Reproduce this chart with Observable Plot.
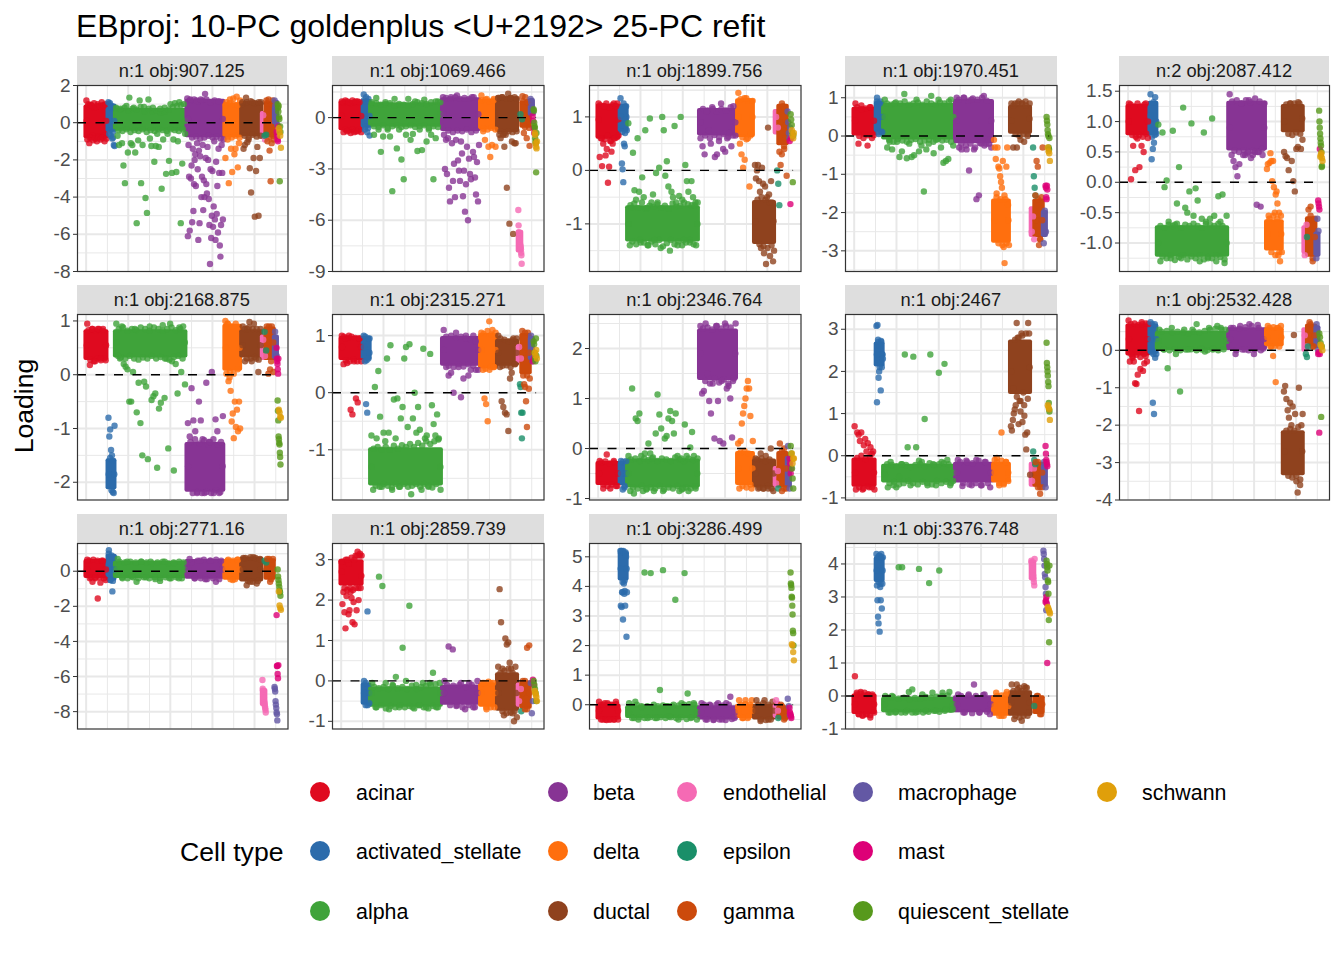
<!DOCTYPE html>
<html><head><meta charset="utf-8">
<script src="https://cdn.jsdelivr.net/npm/d3@7"></script>
<script src="https://cdn.jsdelivr.net/npm/@observablehq/plot@0.6"></script>
<style>
html,body{margin:0;padding:0;background:#fff}
#c{position:relative;width:1344px;height:960px;overflow:hidden;font-family:"Liberation Sans",Arial,sans-serif}
#c>*{position:absolute}
#c svg{overflow:visible;background:transparent}
.strip{background:#dedede;color:#1a1a1a;font-size:18.3px;text-align:center;box-sizing:border-box;padding-top:5px;line-height:20px}
.lab{font-size:21.4px;color:#000;line-height:22px;white-space:nowrap}
.sw{width:20px;height:20px;border-radius:50%}
</style></head><body><div id="c"></div>
<script>
const cellTypes=["acinar","activated_stellate","alpha","beta","delta","ductal","endothelial","epsilon","gamma","macrophage","mast","quiescent_stellate","schwann"];
const typeColors=["#df0a1f","#2c6bab","#3fa33a","#873494","#ff6f0e","#8f421e","#f56ab4","#1a8f69","#cc4a0c","#6358a4","#dd0077","#57991c","#e09f0a"];
const typeStart=[.04,.145,.18,.52,.70,.78,.878,.885,.895,.935,.945,.95,.955];
const typeEnd=[.14,.178,.515,.695,.775,.875,.895,.9,.935,.95,.955,.965,.968];
const edgeTypes=[0,1,2,3,4,5,8];
const panelTitles=["n:1 obj:907.125","n:1 obj:1069.466","n:1 obj:1899.756","n:1 obj:1970.451","n:2 obj:2087.412","n:1 obj:2168.875","n:1 obj:2315.271","n:1 obj:2346.764","n:1 obj:2467","n:1 obj:2532.428","n:1 obj:2771.16","n:1 obj:2859.739","n:1 obj:3286.499","n:1 obj:3376.748"];
const panelYMin=[-8,-9,-1.89,-3.54,-1.469,-2.33,-1.88,-1.03,-1.05,-4,-8.99,-1.19,-.82,-1];
const panelYMax=[2,1.88,1.587,1.32,1.594,1.12,1.37,2.68,3.35,.957,1.58,3.4,5.45,4.62];
const panelTicks=[[-8,-6,-4,-2,0,2],[-9,-6,-3,0],[-1,0,1],[-3,-2,-1,0,1],[-1,-.5,0,.5,1,1.5],[-2,-1,0,1],[-1,0,1],[-1,0,1,2],[-1,0,1,2,3],[-4,-3,-2,-1,0],[-8,-6,-4,-2,0],[-1,0,1,2,3],[0,1,2,3,4,5],[-1,0,1,2,3,4]];
const xMajor=[.041,.241,.441,.641,.841],xMinor=[.142,.342,.542,.742,.942];

// For each facet: dense band of each cell type [low, high], the cells at the rim of the bands, and the individual cells by type
const core0=[[-.75,.85],[-.4,.9],[-.35,.65],[-.7,1.15],[-.7,.95],[-.65,1.05],[-.8,.5],null,[-.7,1],[0,1.1],null,null,null];
const edge0=[[.1,.9,-.8,.95,-.7,.8,-.85,.9,-.75,.85,-.8,.95,-.7,.1],[1,-.4,.8,-.5,.1],[.75,-.4,.7,-.45,.8,-.35,.65,-.5,.75,-.4,.7,-.45,.85,-.35,.6,-.5,.75,-.4,.6,-.45,.65,-.35,.55,-.4,.6,-.45,.7,-.35,.85,-.4,.9,-.45,.95,-.35,.1],[.2,1.2,-.8,1.25,-.75,1.15,-.85,1.2,-.8,1.25,-.7,1.1,-.8,1.2,-.75,1.15,-.85,.2],[.95,-.75,1.05,-.8,1,-.7,.95,-.8],[1,-.7,1.1,-.8,1.15,-.65,1.05,-.75,1.1,-.7],[1.05,-.8,1,-.7]];
const cells0=[[1.2,-.9,1,-1.1,.95,-.8,.9,-.95,1.05,-.85,.85,-1,1,-.8,.9,-.9,1.1,-.8,.9,-1,1,-.85],
[1.1,-.6,1.05,-.7,.9,-.85,-.8,-1.2,-1.25],
[.8,-.7,-1.2,.75,-1.1,-2.3,-3.25,.9,-1.6,1.35,-1.1,-1.2,.8,-1.6,-5.4,-.95,1.2,-3.25,-1.2,.85,-4.05,-4.85,1.25,-.85,-1.25,.8,-2.1,-1.25,-.6,-1.3,.75,-3.55,-.9,.8,-2.75,-.6,-2.05,1,-2.7,-.9,1.05,-2.65,-1,1.1,-5.4,-2.2,1,-.6],
[1.3,-6.1,-1.2,-2.9,-5.8,1.25,-3,-2.3,-5.35,-1.4,-4.75,-3.3,-2,-1.7,-3.4,1.2,-1.1,-2.5,-6.3,-1.5,-5.4,-1.8,1.25,-4,-2.9,-1.2,-4.7,-3.1,-4,1.55,-1.9,-3.3,-3.8,-1.3,-2,-4.1,-5.5,-7.6,-2.5,-6.2,-5,-2.6,-5.6,-4.5,-1,-5.2,-6.3,-2.1,-4.9,-3.4,-5.9,-1.4,-2.7,-6.6,-7.2,-5.5,-1.2,-2.7,-5.2,-.9],
[-1.9,1.1,-.9,-3.25,1.25,-1.4,-2.65,1.3,-1.7,-1.4,1.4,-2.4,-1.1,1.2],
[1.1,-1.4,-1.2,1.35,-1.05,-.9,-2.45,-3.75,1.1,-1.9,-5.05,-2.6,-1.3,-5,-1.9,1.1],
[.4,-.9],[-.7,-.65],[1.2,-1,1.25,-1.5,-3.15,-1.1,1.2,-.9],[1.2,.9,.6,.3,-.1],[-.5,-.7,-.9,-1,-.2],[1,.8,.6,.9,.3,.2,-3.15,-.2,-.5],[-.3,-.5,-.7,-1.35]];

const core1=[[-.65,.85],[-.5,.95],[-.45,.75],[-.7,1.05],[-.6,.95],[-.75,1.1],[-7.8,-6.7],null,[-.5,.85],[.2,1],null,null,null];
const edge1=[[.1,.9,-.7,.95,-.75,.85,-.7,.9,-.8,.95,-.7,.1],[1,-.55,.95,-.6,.1],[.8,-.5,.85,-.55,.75,-.45,.8,-.6,.85,-.5,.7,-.45,.8,-.55,.75,-.5,.7,-.45,.8,-.55,.9,-.5,.85,-.45,.8,-.6,.9,-.5,.95,-.55,.2],[.2,1.15,-.75,1.1,-.85,1.2,-.75,1.1,-.8,1.15,-.7,1.1,-.85,1.2,-.75,.2],[1,-.65,1.05,-.7,.95,-.6,1,-.7],[1.15,-.8,1.2,-.9,1.1,-.8,1.15,-.85,1.2,-.8],[.95,-.55,.9,-.6]];
const cells1=[[.95,-.85,1,-.8,.9,-.9,1,-.85,.95,-.8,.9,-.85],[1.35,-.7,1.2,-.85,1.1,-1.05],
[.9,-1,1.15,-.7,-2,-1.1,.9,-.7,-1.1,-4.3,1.1,-1.8,-.7,-2.45,-3.6,-1,1.1,-1.3,-.95,.95,-1.95,-.7,-1.9,1.05,-1.4,-.7,-1,-3.6,-1.2,.95,.9],
[1.2,-1,-3,-1.3,-3.3,-1.2,-4.1,-4.9,1.2,-1.5,-3.7,-2.7,-4.65,-1.3,1.3,-2.5,-3.1,-3.7,-1.4,-2.1,-4.6,-3.1,-5.5,-3.9,-1.7,-6,-2.4,-3.3,-3.6,1.2,-2,-2.3,-3.5,-4.5,-2.6,-4.9,-1.6],
[1.3,-.8,-1.3,1.1,-1.7,-2.3,-1.6,1.1,-1.7],
[1.15,-1,-1.2,1.2,-1,-1.7,-1,-4.1,1.4,-6.2,1.15,-1.4,-6.8,-1.5,-1.5,1.1],
[-5.4,-6.3,-6.7,-6.9,-7,-7.1,-7.2,-7.4,-7.5,-7.6,-7.7,-7.9,-8.05,-8.55],[.2,-.1],[1.25,-.9,1.2,-1.2,.9,-1.65],[1.1,.9,.7,.5,.3],[.1,-.2,-.6,-.9],[.5,.4,-.3,-.5,-.6,-1.2,-1.4,-1.5,-3.2,-.9],[-.9,-1,-1.5,-1.7,-1.8,-1.4]];

const core2=[[.62,1.2],[.75,1.2],[-1.3,-.7],[.68,1.12],[.65,1.3],[-1.35,-.6],[.7,1.1],null,[.5,1.2],null,null,null,null];
const edge2=[[.95,1.22,.6,1.2,.58,1.25,.65,1.18,.55,1.22,.6,1.2,.62,.95],[1,.72,1.25,.7,1],[-1,-.65,-1.33,-.62,-1.38,-.7,-1.3,-.6,-1.35,-.72,-1.4,-.66,-1.33,-.68,-1.38,-.63,-1.3,-.7,-1.42,-.66,-1.36,-.72,-1.3,-.62,-1.38,-.68,-1.33,-.66,-1.4,-.6,-1.35,-.63,-1.3,-.65,-1.38,-.6,-1],[.9,1.15,.65,1.12,.6,1.18,.66,1.1,.62,1.15,.68,1.12,.63,1.18,.65,.9],[1,1.33,.62,1.35,.58,1.3,.65,1],[-.95,-.55,-1.38,-.5,-1.42,-.55,-1.45,-.6,-1.4,-.95],[.9,1.25,.45,.85]];
const cells2=[[1.25,.25,.6,.08,.5,1.2,.28,.4,-.23,.07,.55,.35,.5,1.25,.6,1.2,1.25,.65],[1.35,.85,.13,.02,-.22,.5,.45,.95,1.2,.75],
[.88,-1.4,-.7,.33,-.37,-.55,.6,-.4,-1.35,-.13,-.5,.75,-.7,-1.4,.97,-.6,-.45,-1.3,-.05,-.6,.05,-1.45,1,.75,-.1,.17,-.3,-1.5,-.4,-.5,.83,-.6,-1.4,-.48,1,-.55,-1.3,.1,-.2,-.4,-1.35,-.2,-.5,-.65,-1.4,-.6],
[.6,.45,.3,1.1,.75,.5,1.15,.25,.3,.55,1.25,.4,.35,.6,.7,.45,1.2,.65],[1.45,.5,.3,.05,.2,1.35,.6,-.3,.7,1.3],
[.1,-.15,0,.1,-.2,-.4,-1.45,.05,-.25,-1.55,-.3,-1.75,-.5,.8,-.45,-1.6,-.2,-.6,-1.7,-1.5],
[1,.8],[0,-.25,-.65],[.35,.1,.3,1.2,.4,.6,-.1],[1.1,.9,.7,.6,.8],[.55,-.63,.6],[1.05,.95,.85,.7,-.22,.65],[.75,.65,.6,.7]];

const core3=[[.05,.7],[.15,.85],[-.05,.8],[-.15,.9],[-2.75,-1.7],[.1,.75],[-2.6,-1.9],null,[-2.6,-1.7],[-2.6,-2],null,null,null];
const edge3=[[.4,.75,0,.8,-.05,.72,.02,.75,-.05,.4],[.9,.1,.85,.12,.5],[.5,.85,-.1,.82,-.15,.88,-.08,.85,-.12,.9,-.15,.82,-.1,.85,-.08,.88,-.15,.82,-.12,.9,-.1,.85,-.15,.82,-.08,.88,-.12,.85,-.1,.9,-.15,.5],[.4,.95,-.2,1,-.25,.92,-.2,.98,-.3,.95,-.18,1,-.25,.92,-.2,.4],[-2.2,-1.6,-2.8,-1.65,-2.85,-1.55,-2.8,-2.2],[.4,.8,.05,.85,0,.85,.05,.9,0,.45],[-2.2,-1.65,-2.7,-2.2]];
const cells3=[[.85,-.2,.7,.05,-.25,.75,.02],[1,.05,.9,.1],
[.95,-.3,-.15,-.35,.85,-.15,-.55,-.4,1.1,-.58,-.2,-.55,-.5,.95,-.4,-.25,-1.45,-.35,-.2,1.05,-.45,-.1,.95,-.3,-.7,-.65,-.6,.95,-.25],
[1,-.3,-.35,1,-.35,-.9,.95,-.35,-1.65,-1.55,-.2,1.05,-.2,-.1,-.3],
[-.1,-.3,-.6,-1.5,-.3,-.8,-.85,-1.05,-1.2,-1.35,-.65,-2.9,-3.32,-1.65,-.8,-.3,-1.8,-2.85],
[.85,-.3,.85,-.3,.9,-.1,.85,-.15,.8,.05,.85],[-2.5,-2.1,-2.7],[-.3,-1.05,-1.35,-1.55],[-1.55,-.65,-.8,-2.85,-2.7,-1.6,-.3],[-2.8,-1.95,-2.5],[-1.3,-1.35,-1.6,-1.65,-1.3,-1.4],[.5,.4,.3,.15,.05,0,-.3,-.35,-.05],[-.3,-.4,-.45,-.65]];

const core4=[[.8,1.25],[.8,1.3],[-1.2,-.75],[.55,1.3],[-1.1,-.65],[.85,1.25],[-1.15,-.75],null,[-1.2,-.6],[-1.2,-.85],null,null,null];
const edge4=[[1,1.28,.78,1.25,.75,1.3,.78,1.25,.75,1.28,.8,1],[1.1,.75,1.32,.78,1],[-1,-.72,-1.22,-.75,-1.25,-.7,-1.2,-.72,-1.28,-.68,-1.23,-.75,-1.2,-.7,-1.27,-.72,-1.22,-.68,-1.25,-.72,-1.2,-.75,-1.27,-.68,-1.23,-.7,-1.25,-.72,-1.2,-.68,-1.23,-.72,-1.27,-1],[.9,1.33,.52,1.35,.5,1.3,.53,1.35,.5,1.32,.52,1.38,.5,1.33,.55,.9],[-.85,-.6,-1.15,-.55,-1.2,-.6,-1.15,-.85],[1,1.28,.8,1.3,.78,1.3,.82,1.32,.8,1.05],[-.9,-.55,-1.25,-.9]];
const cells4=[[1.3,.05,.6,.2,.72,.25,.6,.5,1.3,.73],[1.45,.38,.55,.65,1.4,.8],
[.95,-1.3,.82,-.08,.03,-.65,-1.25,.85,-.7,-.35,.25,-1.25,1.23,-.42,-.5,-.15,.97,-.55,-.1,-.3,-1.3,-.6,.82,-.65,-1.25,-.6,1.05,-.55,-1.3,-.23,-.65,-.2,-1.33,-.55],
[1.45,.45,.35,.25,.1,.3,1.3,.45,.45,.48,1.35,.4,.45,.5,-.37,.5,-.4,.45,1.3],
[.22,.3,-.55,.32,.48,.35,.02,.35,-.08,-.5,-.2,-.15,-.35,-1.2,-.5,-1.3,-.55,-1.15],
[.5,.43,.4,.2,1.3,.35,.02,-.15,.55,.58,1.3,.55,.7],[-1.2,-.7],[-.9],[-.45,-.4,-1.3,-.6],[-1.25,-.6,-.8],[-.3,-.35,-.4,-.45,.55],[1.18,1,.9,.8,.72,.65,.6,.5,.25,.27],[.42,.45,.48,.4,.35]];

const core5=[[.3,.8],[-2.1,-1.6],[.35,.8],[-2.15,-1.3],[.1,.9],[.35,.8],[.3,.7],null,[.3,.85],[.3,.7],null,null,null];
const edge5=[[.55,.83,.28,.85,.25,.82,.3,.85,.27,.82,.3,.55],[-1.85,-1.55,-2.15,-1.6,-1.85],[.6,.85,.32,.88,.3,.82,.35,.85,.3,.83,.28,.88,.32,.85,.3,.82,.35,.88,.3,.85,.33,.82,.3,.85,.28,.88,.33,.83,.35,.85,.3,.6],[-1.7,-1.25,-2.2,-1.2,-2.18,-1.28,-2.2,-1.22,-2.18,-1.25,-2.2,-1.2,-2.15,-1.3,-2.18,-1.7],[.5,.95,.05,.9,.02,.95,.1,.5],[.55,.85,.3,.88,.3,.85,.33,.85,.28,.55],[.6,.9,.25,.6]];
const cells5=[[.95,.18,.85,.25,.85,.3,.85,.27],[-.8,-1.15,-1.02,-1.4,-1.5,-2.18,-2.2,-.95],
[.95,.35,.3,.9,.2,.15,.1,-.5,-.5,.05,.85,-.7,-.15,-.9,-1.5,-.13,-.22,-1.57,.9,-.47,-.4,-.35,-1.73,-.63,-.52,.92,-.43,.3,-1.37,.95,.25,-1.78,.2,-.35,.88,.05,.9,-.18],
[-.9,-1.15,-.25,-.85,-1.05,-2.2,-.5,-.85,-1.2,-2.2,-.15,-1.3,-1.25,.05,-2.2,-.83,-1.05,-2.2,-1.25,-.77],
[1,.02,.95,-.12,-.05,-.3,-.87,-.72,-1.18,-.5,-.97,-.65,-1.05,-.5,-1],
[.9,.25,.85,.98,.25,.95,.3,.05,.85],[.65,.35],[.8,.45],[.9,.02,.1,.9,.05],[.8,.35],[.5,.3,.25,.2,.1,.02,.3],[-.48,-.67,-.85,-1.15,-1.2,-1.27,-1.3,-1.45,-1.53,-1.67],[-.65,-.7,-.78,-.8]];

const core6=[[.6,.95],[.6,.95],[-1.6,-1],[.5,.95],[.45,1],[.5,.9],[.55,.8],null,[.35,1],[.6,.95],null,null,null];
const edge6=[[.8,.98,.57,.96,.55,.98,.58,.96,.55,.95,.8],[.8,.98,.57,.95,.7],[-1.3,-.98,-1.63,-.95,-1.65,-1,-1.6,-.95,-1.63,-1,-1.66,-.93,-1.6,-.98,-1.65,-.92,-1.6,-.95,-1.65,-.9,-1.63,-.95,-1.6,-.88,-1.65,-.93,-1.6,-.85,-1.63,-.9,-1.66,-.85,-1.6,-.82,-1.3],[.75,.98,.47,1,.45,.96,.5,.98,.46,.95,.5,.93,.47,.9,.75],[.75,1.03,.42,1.08,.4,1.02,.45,.75],[.7,.95,.47,.93,.48,.9,.45,.92,.5,.7],[.7,1.05,.3,.7]];
const cells6=[[1,.5,.95,.52,1,-.3,-.38,.55,-.1,-.17,.95,.55],[1,.55,-.2,-.35,.6,.95],
[-.75,-1.7,.1,-.8,.38,-.42,-1.65,-.7,-.85,.6,-.7,.83,-1.7,-.12,-.8,-.1,-1.65,-.45,-.25,.6,.8,-.6,.85,-1.78,-.45,0,-.7,-.25,-.65,-1.7,.77,-.8,-.75,-1.65,.68,-.22,-.55,-.75,-.38,-.8,-1.7],
[1.1,.45,.3,.35,0,1.05,.45,-.08,.25,1,.3,.4,1,.4,.4],[1.05,.4,-.1,-.2,-.5,1.25,.45,1.1,.45,1.05],
[1,.45,-.15,-.25,-.35,-.38,-.67,.25,.35,.95,.5,.95],[.8,.6],[.15,.1,-.35,-.8,-.35],[1.08,.3,.15,.1,-.15,-.6,1.05,.07,.25],[1,.55],[.55,.6],[.9,.85,.7,.6,.55,.95,.65],[.7,.65,.75,.6]];

const core7=[[-.7,-.3],[-.7,-.3],[-.75,-.25],[1.4,2.35],[-.7,-.1],[-.75,-.25],[-.75,-.4],null,[-.75,-.1],[-.75,-.2],null,null,null];
const edge7=[[-.5,-.28,-.72,-.26,-.75,-.3,-.72,-.28,-.75,-.5],[-.5,-.27,-.75,-.5],[-.5,-.22,-.78,-.2,-.8,-.25,-.75,-.2,-.82,-.23,-.78,-.18,-.8,-.25,-.75,-.2,-.82,-.22,-.78,-.25,-.8,-.18,-.75,-.22,-.82,-.25,-.78,-.2,-.8,-.23,-.76,-.5],[1.9,2.4,1.35,2.42,1.3,2.38,1.4,2.45,1.32,2.4,1.38,2.45,1.3,2.42,1.35,1.9],[-.4,-.08,-.75,-.05,-.78,-.1,-.72,-.4],[-.5,-.22,-.78,-.2,-.8,-.25,-.75,-.22,-.8,-.5],[-.4,-.05,-.8,-.4]];
const cells7=[[-.25,-.8,-.12,-.8,-.25,-.75],[-.25,-.82,-.78,-.25],
[-.15,-.85,1.2,-.9,.6,.55,.7,-.15,-.85,-.1,-.8,.1,-.1,-.2,-.85,.3,1.08,.68,.4,-.85,.2,.25,.6,.75,.55,.3,.7,-.15,-.85,-.2,-.8,.48,-.15,-.85,.02,.33,-.15,-.8,-.2],
[2.45,1.1,1.15,2.5,1.5,.95,.7,1.3,.2,2.45,.95,.15,1.35,.1,2.5,1.2,1.25,1,.22,1.4,2.5],
[.1,-.8,.15,.5,.7,.85,1,1.2,1.35,1.2,.65,-.8,.15],[-.2,-.8,-.1,-.8,-.15,-.8,0,-.85],[-.7,-.45],[-.8],[.1,-.85,0,-.8],[.05,-.8],[-.2,-.3,-.5,-.4],[.05,-.1,-.4,-.6,-.8],[-.1,-.3,-.2,-.2]];

const core8=[[-.7,-.1],[2.15,2.65],[-.6,-.25],[-.6,-.2],[-.6,-.2],[1.5,2.7],[-.7,-.2],null,[-.7,-.2],[-.7,-.25],null,null,null];
const edge8=[[-.4,-.05,-.75,0,-.78,-.08,-.72,-.02,-.75,-.4],[2.4,2.7,2.1,2.72,2.4],[-.4,-.2,-.65,-.22,-.62,-.25,-.68,-.2,-.65,-.22,-.6,-.27,-.65,-.22,-.68,-.2,-.62,-.25,-.65,-.18,-.68,-.22,-.6,-.2,-.65,-.18,-.62,-.2,-.65,-.4],[-.4,-.15,-.65,-.12,-.68,-.18,-.65,-.12,-.7,-.15,-.65,-.4],[-.4,-.15,-.65,-.12,-.68,-.15,-.4],[2,1.6,2.75,1.4,2.8,1.3,2.85,1.2,2.9,1.35,2.1],[-.4,-.15,-.75,-.4]];
const cells8=[[.7,-.8,.55,.5,.35,.55,-.8,.25,.4,.1,.3,-.75,.2,.05,.1,-.8],[3.08,1.27,3.1,2.75,1.85,2,2.6,2.2,1.55,2.7,2.1,2.4,2.3],
[-.45,-.75,-.15,-.7,-.75,-.5,-.2,2.4,.2,-.7,2.35,.2,-.12,-.15,.87,-.7,2.4,-.2,-.7,1.97,-.15,2.18,-.1,-.7,-.6],
[-.1,-.72,-.15,-.7,-.1,-.7,-.15,-.75],[-.1,-.05,-.7,.55,-.65,-.15,-.6],
[.7,.6,.85,1,1.1,1.2,3.15,2.8,.75,1.3,1.05,2.9,.8,1.5,.95,.5,.15,.55,3.15,2.9,-.45],[-.6,-.3],[.1,-.1,-.2],[-.15,-.75,-.9,-.75],[-.15,-.75],[.23,.05,-.1,-.15,-.2,-.25],[2.68,2.2,2.1,2,1.9,1.75,1.65,1.25,1.1,1.05],[1.2,1.15,1.1,.85]];

const core9=[[-.1,.65],[-.05,.65],[.05,.45],[.05,.55],[.15,.55],[-3.3,-2.2],[0,.55],null,[.15,.65],[.1,.6],null,null,null];
const edge9=[[.3,.7,-.15,.72,-.12,.68,-.18,.7,-.1,.72,.3],[.3,.7,-.1,.7,.3],[.25,.5,.02,.52,0,.48,.03,.5,0,.48,.02,.45,.03,.5,0,.48,.02,.52,0,.55,.02,.58,0,.6,.03,.25],[.3,.6,0,.58,.02,.62,0,.65,.02,.68,0,.3],[.35,.6,.1,.62,.12,.6,.1,.35],[-2.7,-2.15,-3.35,-2.1,-3.4,-2.15,-3.35,-2.05,-3.45,-2.7],[.4,.7,.1,.4]];
const cells9=[[.8,-.3,-.1,-.2,-.3,-.88,-.9,-.65,-1.62,-.5,.75,-.55,-.35,-.15,-.3,.7],[.75,-.05,-1.4,-1.7,-.2,-.1],
[.55,.03,-.48,.6,-.1,-1.1,.55,.02,.55,.7,.05,-.03,.6,.05,.65,.55,.55],[.6,-.1,.65,.02,.7,-.1,.6,.05],[.65,.1,-.15,-.85,.6,.65],
[-1.1,-.95,-1.3,-1.6,-1.8,-1.4,-2,-1.5,.41,-1.7,-3.5,-3.8,-1,-3.6,-2,-1.7],[.4,.1],[-.1,-.18,.1],[.75,.1],[.7,0],[-.1,-.05,-2.2,-.1],[.45,.35,.2,-1.78,.1],[.15,.1,0]];

const core10=[[-.3,.55],[-.45,.85],[-.3,.45],[-.35,.55],[-.4,.55],[-.5,.7],[-7.6,-6.8],null,[-.4,.6],null,null,null,null];
const edge10=[[.1,.6,-.35,.65,-.4,.6,-.35,.6,-.4,.1],[1,-.5,.9,-.55,.1],[.1,.55,-.35,.5,-.4,.55,-.35,.5,-.4,.55,-.35,.5,-.4,.45,-.35,.5,-.4,.55,-.35,.45,-.4,.5,-.35,.55,-.4,.1],[.1,.5,-.4,.6,-.4,.65,-.45,.6,-.4,.65,-.45,.1],[.1,.65,-.45,.6,-.45,.65,.1],[.1,.75,-.55,.8,-.6,.75,-.55,.1],[.1,.7,-.45,.1]];
const cells10=[[.65,-.4,-.6,-.35,-1.55,-.65,.6,-.5],[1.2,-.5,-1.15,.8],
[.7,-.4,.55,-.3,-.6,.55,-.35,.55,-.45,-.55,.55,-.4,.45,-.4,.5],[.7,-.4,.6,-.45,.6,-.6,.6],[.6,-.5,.65],[.75,-.8,-.6,.8,-.7,.7],
[-6.2,-6.7,-6.8,-7,-7.1,-7.2,-7.4,-7.5,-7.6,-7.7,-7.8,-7.9,-8.05],[.6,.5],[.7,-.6,.7],[-6.6,-6.7,-6.85,-7.4,-7.6,-7.8,-8.05,-8.15,-8.5],[-2.5,-5.4,-5.4,-5.85,-6.1,-5.35],[.1,-.3,-.5,-.7,-.9,-1.1,-1.2,-1.4],[-1.15,-1.95,-2.1,-2.2]];

const core11=[[2.4,2.95],[-.55,-.1],[-.6,-.2],[-.55,-.15],[-.6,-.1],[-.7,.15],[-.6,-.1],null,[-.65,-.05],null,null,null,null];
const edge11=[[2.7,2.95,2.3,3,2.25,2.9,2.3,3.05,2.25,3,2.3,3.1,2.3,3.15,2.6],[-.3,-.05,-.6,-.3],[-.3,-.15,-.65,-.18,-.6,-.15,-.68,-.2,-.62,-.12,-.65,-.18,-.6,-.15,-.65,-.2,-.62,-.12,-.68,-.2,-.6,-.15,-.65,-.12,-.68,-.1,-.62,-.08,-.65,-.3],[-.3,-.1,-.6,-.12,-.62,-.1,-.65,-.15,-.6,-.1,-.65,-.3],[-.3,-.05,-.65,-.02,-.65,-.05,-.3],[-.3,.2,-.75,.25,-.8,.3,-.78,.2,-.75,-.3],[-.3,0,-.7,-.3]];
const cells11=[[2.95,1.9,2.2,1.7,1.3,2.1,3,1.65,1.75,2.2,2.05,1.45,1.95,1.4,3.1,1.75,3.2,2,3.1,2.3,3.1],[0,-.6,1.72,-.55],
[-.05,-.65,2.58,2.35,-.05,-.7,-.1,.1,-.65,.82,0,1.86,-.65,-.1,-.6,-.05,-.65,-.05,.2,-.65,-.05],[0,.85,.78,-.6,-.05,-.7,-.05,-.65,0],[-.05,-.7,-.05,-.65],
[.35,2.27,1.45,.3,-.85,1.05,.9,.95,.45,.3,-.8,-1,.35,-.9],[-.5,-.2],[-.75],[0,-.7,.82,.88],[-.05,-.8,-.5],[.03,-.1],[0,-.1,-.2,-.3,-.5],[-.25,-.3,-.35,-.4,-.5]];

const core12=[[-.45,-.05],[4.25,5.1],[-.4,-.1],[-.45,-.1],[-.4,-.05],[-.45,-.05],[-.4,.05],null,[-.45,-.1],null,null,null,null];
const edge12=[[-.2,0,-.5,.05,-.52,0,-.5,-.02,-.5,.02,-.2],[4.6,5.2,4.15,5.15,4.2,5.1,4.6],[-.25,-.05,-.45,0,-.42,-.08,-.45,-.05,-.42,-.08,-.45,-.05,-.42,-.02,-.45,-.05,-.42,0,-.45,-.02,-.42,0,-.48,.02,-.42,0,-.25],[-.25,0,-.5,-.02,-.52,0,-.5,-.02,-.52,0,-.48,-.25],[-.2,0,-.45,.02,-.45,0,-.2],[-.2,0,-.5,.05,-.52,0,-.5,-.2],[-.2,-.05,-.5,-.2]];
const cells12=[[.1,-.5,0,-.5,.05,-.5,0,-.5,.1,-.5],[5.2,3.35,5.2,3.3,3.8,3.8,2.88,5.2,4.1,3.75,3.85,3.35,5.15,5,2.3,3.8],
[.05,-.45,.1,-.5,-.05,4.47,-.45,4.45,0,-.45,.5,4.55,-.05,-.4,-.05,3.55,-.5,.05,4.45,.38,-.45,.05,-.5],[.05,-.5,0,-.5,.05,-.5,.05,.27,-.45],[.15,-.45,.15,-.4,.15],[.15,-.55,.15,-.5,.1],[.15,-.2],[-.45],[0,-.45],[.2,-.05,-.35],[-.1,-.25,-.3,-.35,-.4,-.45],[4.47,4.1,4.05,3.95,3.65,3.62,3.35,3.05,2.5,2.42,2],[2.05,2,1.78,1.5]];

const core13=[[-.5,0],[3.5,4.15],[-.45,-.1],[-.45,-.05],[-.55,-.05],[-.55,.1],[3.55,4.05],null,[-.5,-.05],null,null,null,null];
const edge13=[[-.25,.05,-.55,.08,-.58,.02,-.55,.05,-.58,0,-.25],[3.8,4.2,3.45,4.25,3.4,4.2,3.8],[-.25,-.05,-.5,-.03,-.48,-.08,-.5,-.05,-.45,-.1,-.5,-.06,-.48,-.08,-.5,-.03,-.48,-.05,-.45,-.02,-.48,0,-.45,.02,-.42,-.25],[-.25,0,-.5,.02,-.52,0,-.5,.03,-.48,-.25],[-.3,0,-.6,.02,-.6,.05,-.3],[-.2,.15,-.6,.2,-.65,.15,-.6,.25,-.6,-.2],[-.25,0,-.55,-.25]];
const cells13=[[.6,.1,-.55,.12,-.6,.1,-.55,.05,-.65,.05,-.5],[4.3,3.35,2.9,2.4,2.2,4.25,1.95,3.3,2.9,4.3,2.65,3.4,4.2],
[0,-.5,0,-.5,3.9,3.9,-.5,.12,.2,-.5,3.85,.05,-.45,3.42,.1,-.45,3.8,.1,-.4,.12,-.4],[.05,-.5,.05,.35,-.5,.05,-.55],[.1,-.6,.12],[.35,-.7,.35,.25,-.75,.3,.25,-.5],
[4.1,4.05,3.95,3.85,3.75,3.65,3.55,3.45,3.35,4.15],[-.3],[0,-.55],[4.4,4.3,4.15,3.95,3.7,3.6,3.3,3.1,2.6],[2.85,2.9,3,2.8,1],[4.1,4,3.9,3.8,3.5,3.45,3.1,2.3,1.63,3.95],[2.7,2.65,2.6,2.55,2.5]];

const allCells=[cells0,cells1,cells2,cells3,cells4,cells5,cells6,cells7,cells8,cells9,cells10,cells11,cells12,cells13];
const allCores=[core0,core1,core2,core3,core4,core5,core6,core7,core8,core9,core10,core11,core12,core13];
const allEdges=[edge0,edge1,edge2,edge3,edge4,edge5,edge6,edge7,edge8,edge9,edge10,edge11,edge12,edge13];

// Layout of the facets
const colX=[[76.5,287],[332,543.5],[588.5,800],[845,1056.5],[1119,1329]];
const rowY=[[56,84.5,270.5],[285,313.5,499],[514,542.5,728]];
const legendRows=[792,851,911];
const legendCols=[[320,356],[557.5,593],[687,723],[863,898],[1107,1142]];
const legendLayout=[[0,0],[0,1],[0,2],[1,0],[1,1],[1,2],[2,0],[2,1],[2,2],[3,0],[3,1],[3,2],[4,0]];

const c=document.getElementById("c");
function add(tag,cls,style,text){const e=document.createElement(tag);if(cls)e.className=cls;Object.assign(e.style,style);if(text!=null)e.textContent=text;c.appendChild(e);return e;}

add("div","",{left:"76px",top:"8px",fontSize:"32px",lineHeight:"36px",color:"#000",whiteSpace:"nowrap"},"EBproj: 10-PC goldenplus <U+2192> 25-PC refit");
add("div","",{left:"24px",top:"406px",fontSize:"26.6px",color:"#000",transform:"translate(-50%,-50%) rotate(-90deg)",whiteSpace:"nowrap"},"Loading");

panelTitles.forEach((title,p)=>{
  const col=p%5,row=Math.floor(p/5);
  const [x0,x1]=colX[col],[sTop,pTop,pBot]=rowY[row];
  add("div","strip",{left:x0+"px",top:sTop+"px",width:(x1-x0)+"px",height:(pTop-sTop)+"px"},title);
  const ticks=panelTicks[p],ymin=panelYMin[p],ymax=panelYMax[p];
  const step=ticks[1]-ticks[0];
  const minor=d3.range(ticks[0]-step/2,ymax,step).concat([ticks[ticks.length-1]+step/2]).filter(v=>v>ymin&&v<ymax&&!ticks.includes(v));
  const fmt=step<1?(d=>d.toFixed(1)):(d=>String(d));
  const dots=[];
  const place=(vals,t)=>vals.forEach((y,i)=>dots.push({type:cellTypes[t],x:typeStart[t]+(i+.5)/vals.length*(typeEnd[t]-typeStart[t]),y}));
  allEdges[p].forEach((vals,k)=>place(vals,edgeTypes[k]));
  allCells[p].forEach((vals,t)=>place(vals,t));
  const bands=allCores[p].map((b,t)=>b?{type:cellTypes[t],x1:typeStart[t],x2:typeEnd[t],y1:b[0],y2:b[1]}:null).filter(Boolean);
  const W=x1-x0,H=pBot-pTop,ml=46;
  const chart=Plot.plot({
    width:W+ml,height:H,marginLeft:ml,marginRight:0,marginTop:0,marginBottom:0,
    style:{fontFamily:"'Liberation Sans',Arial,sans-serif",background:"transparent",overflow:"visible"},
    x:{domain:[0,1],axis:null},
    y:{domain:[ymin,ymax],axis:null},
    color:{domain:cellTypes,range:typeColors},
    marks:[
      Plot.ruleY(minor,{stroke:"#e8e8e8",strokeWidth:1}),
      Plot.ruleX(xMinor,{stroke:"#e8e8e8",strokeWidth:1}),
      Plot.ruleY(ticks.filter(v=>v>ymin&&v<ymax),{stroke:"#e8e8e8",strokeWidth:2}),
      Plot.ruleX(xMajor,{stroke:"#e8e8e8",strokeWidth:2}),
      Plot.rect(bands,{x1:"x1",x2:"x2",y1:"y1",y2:"y2",fill:"type",inset:-2,rx:2}),
      Plot.dot(dots,{x:"x",y:"y",fill:"type",r:3.2,fillOpacity:.8,stroke:"none"}),
      Plot.ruleY([0],{x1:0,x2:.965,stroke:"#000",strokeWidth:1.4,strokeDasharray:"9,9.5"}),
      Plot.frame({stroke:"#333",strokeWidth:1.2}),
      Plot.axisY(ticks,{tickSize:4,tickPadding:3,fontSize:19,color:"#4d4d4d",stroke:"#333",tickFormat:fmt})
    ]
  });
  chart.style.left=(x0-ml)+"px";chart.style.top=pTop+"px";chart.style.position="absolute";
  c.appendChild(chart);
});

add("div","",{left:"180px",top:"838px",fontSize:"26.6px",lineHeight:"28px",color:"#000",whiteSpace:"nowrap"},"Cell type");
cellTypes.forEach((t,i)=>{
  const [cx,ry]=legendLayout[i];
  add("div","sw",{left:(legendCols[cx][0]-10)+"px",top:(legendRows[ry]-10)+"px",background:typeColors[i]});
  add("div","lab",{left:legendCols[cx][1]+"px",top:(legendRows[ry]-10)+"px"},t);
});
</script></body></html>
